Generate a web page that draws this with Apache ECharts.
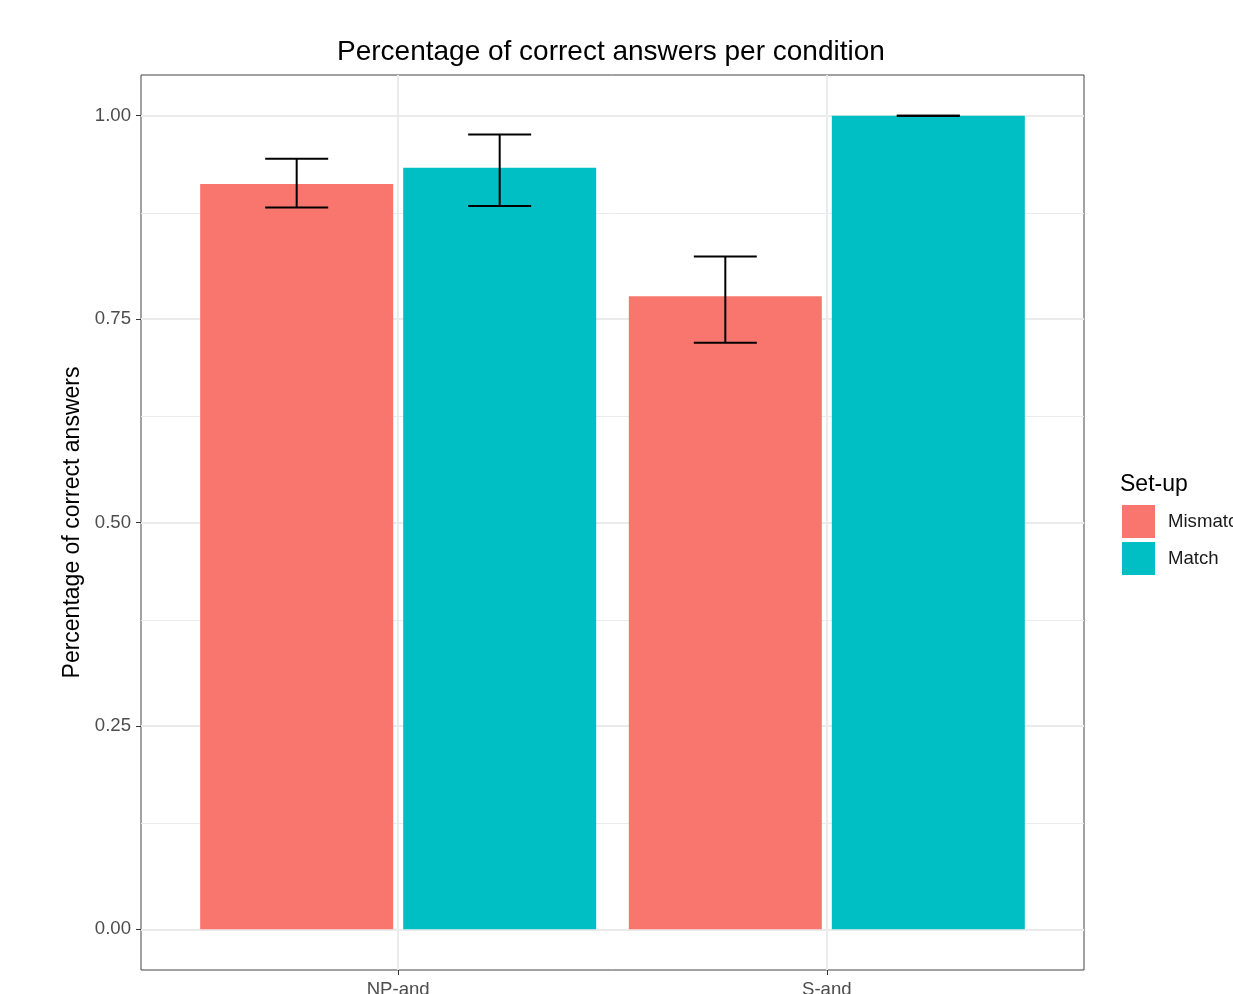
<!DOCTYPE html>
<html>
<head>
<meta charset="utf-8">
<script src="https://cdn.jsdelivr.net/npm/echarts@6/dist/echarts.min.js"></script>
<style>
  html, body { margin: 0; padding: 0; background: #fff; }
  #chart { width: 1233px; height: 994px; }
</style>
</head>
<body>
<div id="chart"></div>
<script>
// data
const categories = ['NP-and', 'S-and'];
const categoryPos = [1, 2];
const mismatchValues = [0.916, 0.778];
const matchValues = [0.936, 1.0];
const mismatchLow = [0.887, 0.721];
const mismatchHigh = [0.947, 0.827];
const matchLow = [0.889, 1.0];
const matchHigh = [0.977, 1.0];
const yTicks = [0, 0.25, 0.5, 0.75, 1.0];
const yMinorTicks = [0.125, 0.375, 0.625, 0.875];

// layout
const barWidth = 193;
const barGapPx = 10;
const dodge = (barWidth + barGapPx) / 2;
const capHalf = 31.5;
const font = 'Liberation Sans, Arial, Helvetica, sans-serif';

function pairs(xs, ys) {
  return xs.map((x, i) => [x, ys[i]]);
}
function triples(xs, lo, hi) {
  return xs.map((x, i) => [x, lo[i], hi[i]]);
}

function errorBar(offset) {
  return function (params, api) {
    const x = api.value(0);
    const lo = api.coord([x, api.value(1)]);
    const hi = api.coord([x, api.value(2)]);
    const cx = lo[0] + offset;
    const style = { stroke: '#000', lineWidth: 2 };
    return {
      type: 'group',
      children: [
        { type: 'line', shape: { x1: cx, y1: hi[1], x2: cx, y2: lo[1] }, style: style },
        { type: 'line', shape: { x1: cx - capHalf, y1: hi[1], x2: cx + capHalf, y2: hi[1] }, style: style },
        { type: 'line', shape: { x1: cx - capHalf, y1: lo[1], x2: cx + capHalf, y2: lo[1] }, style: style }
      ]
    };
  };
}

const gridLines = []
  .concat(yMinorTicks.map(v => ({ yAxis: v, lineStyle: { width: 1 } })))
  .concat(yTicks.map(v => ({ yAxis: v, lineStyle: { width: 2 } })))
  .concat(categoryPos.map(v => ({ xAxis: v, lineStyle: { width: 2 } })));

var myChart = echarts.init(document.getElementById('chart'));
myChart.setOption({
  animation: false,
  backgroundColor: '#fff',
  textStyle: { fontFamily: font },
  title: [
    {
      text: 'Percentage of correct answers per condition',
      left: 337,
      top: 38,
      padding: 0,
      textStyle: { fontFamily: font, fontSize: 28, fontWeight: 'normal', color: '#000' }
    },
    {
      text: 'Set-up',
      left: 1120,
      top: 473,
      padding: 0,
      textStyle: { fontFamily: font, fontSize: 23, fontWeight: 'normal', color: '#000' }
    }
  ],
  legend: {
    orient: 'vertical',
    left: 1122,
    top: 505,
    padding: 0,
    itemWidth: 33,
    itemHeight: 33,
    itemGap: 4,
    icon: 'rect',
    data: ['Mismatch', 'Match'],
    textStyle: { fontFamily: font, fontSize: 18.6, color: '#1a1a1a', padding: [6, 0, 0, 8] }
  },
  grid: {
    left: 141,
    right: 149,
    top: 75,
    bottom: 24,
    outerBoundsMode: 'none',
    show: true,
    borderColor: '#444',
    borderWidth: 1,
    backgroundColor: '#fff'
  },
  xAxis: {
    type: 'value',
    min: 0.4,
    max: 2.6,
    axisLine: { show: false, onZero: false },
    splitLine: { show: false },
    axisTick: { show: true, customValues: categoryPos, length: 5, lineStyle: { color: '#333' } },
    axisLabel: {
      customValues: categoryPos,
      margin: 10,
      fontFamily: font,
      fontSize: 18.6,
      color: '#4d4d4d',
      formatter: v => categories[categoryPos.indexOf(v)] || ''
    }
  },
  yAxis: {
    type: 'value',
    min: -0.05,
    max: 1.05,
    name: 'Percentage of correct answers',
    nameLocation: 'middle',
    nameGap: 49,
    nameTextStyle: { fontFamily: font, fontSize: 23, color: '#000' },
    axisLine: { show: false, onZero: false },
    splitLine: { show: false },
    axisTick: { show: true, customValues: yTicks, length: 5, lineStyle: { color: '#333' } },
    axisLabel: {
      customValues: yTicks,
      margin: 10,
      padding: [5, 0, 0, 0],
      fontFamily: font,
      fontSize: 18.6,
      color: '#4d4d4d',
      formatter: v => v.toFixed(2)
    }
  },
  series: [
    {
      name: 'grid',
      type: 'line',
      data: [],
      z: 0,
      silent: true,
      markLine: {
        silent: true,
        z: 0,
        symbol: ['none', 'none'],
        label: { show: false },
        lineStyle: { color: '#ebebeb', type: 'solid' },
        data: gridLines
      }
    },
    {
      name: 'Mismatch',
      type: 'bar',
      data: pairs(categoryPos, mismatchValues),
      barWidth: barWidth,
      barGap: (barGapPx / barWidth * 100) + '%',
      itemStyle: { color: '#F8766D' },
      z: 2
    },
    {
      name: 'Match',
      type: 'bar',
      data: pairs(categoryPos, matchValues),
      barWidth: barWidth,
      barGap: (barGapPx / barWidth * 100) + '%',
      itemStyle: { color: '#00BFC4' },
      z: 2
    },
    {
      name: 'err-mismatch',
      type: 'custom',
      renderItem: errorBar(-dodge),
      data: triples(categoryPos, mismatchLow, mismatchHigh),
      encode: { x: 0, y: [1, 2] },
      z: 3
    },
    {
      name: 'err-match',
      type: 'custom',
      renderItem: errorBar(dodge),
      data: triples(categoryPos, matchLow, matchHigh),
      encode: { x: 0, y: [1, 2] },
      z: 3
    }
  ]
});
</script>
</body>
</html>
